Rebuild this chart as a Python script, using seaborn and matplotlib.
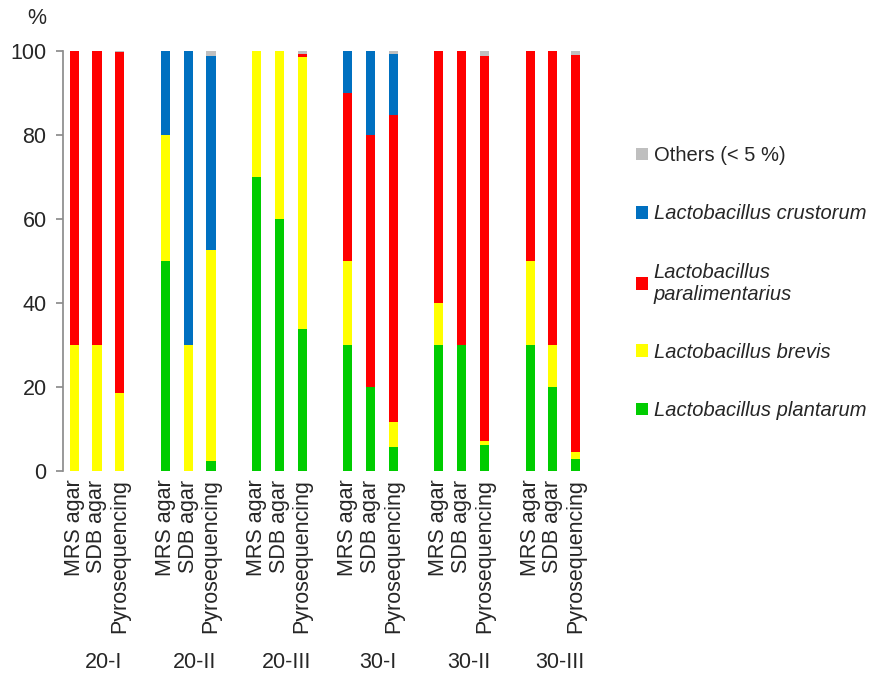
import numpy as np
import pandas as pd
import seaborn as sns
import matplotlib
matplotlib.use("Agg")
import matplotlib.pyplot as plt
from matplotlib.transforms import blended_transform_factory
from matplotlib.patches import Patch

groups = ["20-I", "20-II", "20-III", "30-I", "30-II", "30-III"]
methods = ["MRS agar", "SDB agar", "Pyrosequencing"]

# percentages per bar, order: group by group, methods inside each group
plantarum = [0, 0, 0, 50, 0, 2.5, 70, 60, 33.9, 30, 20, 5.7, 30, 30, 6.3, 30, 20, 2.8]
brevis = [30, 30, 18.7, 30, 30, 50.1, 30, 40, 64.7, 20, 0, 6.0, 10, 0, 0.8, 20, 10, 1.7]
paralimentarius = [70, 70, 80.9, 0, 0, 0, 0, 0, 0.6, 40, 60, 73.0, 60, 70, 91.7, 50, 70, 94.5]
crustorum = [0, 0, 0, 20, 70, 46.2, 0, 0, 0, 10, 20, 14.5, 0, 0, 0, 0, 0, 0]
others = [0, 0, 0.4, 0, 0, 1.2, 0, 0, 0.8, 0, 0, 0.8, 0, 0, 1.2, 0, 0, 1.0]

species = ["Lactobacillus plantarum", "Lactobacillus brevis",
           "Lactobacillus\nparalimentarius", "Lactobacillus crustorum",
           "Others (< 5 %)"]
colors = ["#00CC00", "#FFFF00", "#FF0000", "#0070C0", "#BFBFBF"]

FS = 15.5

sns.set_theme(style="white")
plt.rcParams["font.family"] = ["Liberation Sans", "DejaVu Sans"]

# bar positions: 3 bars per group, one empty slot between groups
pos = [g * 4 + m for g in range(len(groups)) for m in range(len(methods))]
df = pd.DataFrame({
    "pos": pos,
    "method": methods * len(groups),
    "plantarum": plantarum,
    "brevis": brevis,
    "paralimentarius": paralimentarius,
    "crustorum": crustorum,
    "others": others,
})
layers = ["plantarum", "brevis", "paralimentarius", "crustorum", "others"]
cum = df[layers].cumsum(axis=1)

fig = plt.figure(figsize=(8.78, 6.76), dpi=100)
ax = fig.add_axes([0.072, 0.303, 0.598, 0.622])

# draw cumulative heights from top layer down so each covers the one below
for layer, col in reversed(list(zip(layers, colors))):
    sns.barplot(x=df["pos"], y=cum[layer], native_scale=True, color=col,
                saturation=1, width=0.4, linewidth=0, ax=ax)

ax.set_ylim(0, 100)
ax.set_xlim(-0.48, 22.55)
ax.set_yticks([0, 20, 40, 60, 80, 100])
ax.tick_params(axis="y", labelsize=FS, length=5, color="#8C8C8C",
               direction="out", left=True, pad=7)
ax.set_xticks(pos)
ax.set_xticklabels(df["method"], rotation=90, fontsize=FS)
ax.tick_params(axis="x", length=0, pad=6)
ax.set_xlabel("")
ax.set_ylabel("")
for s in ["top", "right", "bottom"]:
    ax.spines[s].set_visible(False)
ax.spines["left"].set_color("#8C8C8C")

trans = blended_transform_factory(ax.transData, fig.transFigure)
for g, name in enumerate(groups):
    ax.text(g * 4 + 1.3, 1 - 663 / 676, name, transform=trans,
            ha="center", va="center", fontsize=FS)

fig.text(37 / 878, 1 - 19 / 676, "%", ha="center", va="center", fontsize=FS)

handles = [Patch(facecolor=c, edgecolor="none") for c in colors][::-1]
leg = fig.legend(handles, species[::-1], loc="upper left",
                 bbox_to_anchor=(0.724, 0.784), frameon=False, fontsize=14.5,
                 handlelength=0.6, handleheight=0.6, handletextpad=0.3,
                 labelspacing=1.95, borderpad=0, borderaxespad=0)
for t in leg.get_texts()[1:]:
    t.set_fontstyle("italic")

fig.savefig("out.png", dpi=100)
